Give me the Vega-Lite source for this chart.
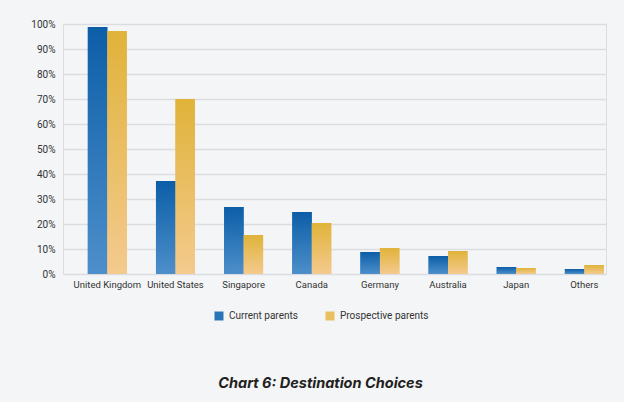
{
  "$schema": "https://vega.github.io/schema/vega-lite/v6.json",
  "width": 543,
  "height": 250,
  "autosize": {"type": "none"},
  "padding": {"left": 63, "top": 24, "right": 18, "bottom": 128},
  "background": "#f4f5f7",
  "title": {
    "text": "Chart 6: Destination Choices",
    "orient": "bottom",
    "anchor": "middle",
    "dx": -14,
    "offset": 56,
    "font": "Inter",
    "fontSize": 14.5,
    "fontStyle": "italic",
    "fontWeight": "bold",
    "color": "#231f20"
  },
  "data": {
    "values": [
      {"country": "United Kingdom", "group": "Current parents", "value": 98.8},
      {"country": "United Kingdom", "group": "Prospective parents", "value": 97.2},
      {"country": "United States", "group": "Current parents", "value": 37.2},
      {"country": "United States", "group": "Prospective parents", "value": 70},
      {"country": "Singapore", "group": "Current parents", "value": 26.8},
      {"country": "Singapore", "group": "Prospective parents", "value": 15.6},
      {"country": "Canada", "group": "Current parents", "value": 24.8},
      {"country": "Canada", "group": "Prospective parents", "value": 20.4},
      {"country": "Germany", "group": "Current parents", "value": 8.8},
      {"country": "Germany", "group": "Prospective parents", "value": 10.4},
      {"country": "Australia", "group": "Current parents", "value": 7.2},
      {"country": "Australia", "group": "Prospective parents", "value": 9.2},
      {"country": "Japan", "group": "Current parents", "value": 2.8},
      {"country": "Japan", "group": "Prospective parents", "value": 2.4},
      {"country": "Others", "group": "Current parents", "value": 2},
      {"country": "Others", "group": "Prospective parents", "value": 3.6}
    ]
  },
  "encoding": {
    "x": {
      "field": "country",
      "type": "nominal",
      "sort": ["United Kingdom", "United States", "Singapore", "Canada", "Germany", "Australia", "Japan", "Others"],
      "scale": {"paddingInner": 0.428, "paddingOuter": 0.198, "align": 0.92},
      "axis": {
        "title": null,
        "labelAngle": 0,
        "domain": false,
        "ticks": false,
        "labelFont": "Roboto",
        "labelFontSize": 9.5,
        "labelColor": "#333333",
        "labelPadding": 5,
        "labelOverlap": false
      }
    },
    "xOffset": {"field": "group", "sort": ["Current parents", "Prospective parents"]},
    "y": {
      "field": "value",
      "type": "quantitative",
      "scale": {"domain": [0, 100]},
      "axis": {
        "title": null,
        "values": [0, 10, 20, 30, 40, 50, 60, 70, 80, 90, 100],
        "labelExpr": "datum.value + '%'",
        "domain": false,
        "ticks": false,
        "labelFont": "Roboto",
        "labelFontSize": 10,
        "labelColor": "#333333",
        "labelPadding": 8,
        "gridColor": "#dcdde1",
        "gridWidth": 1.5
      }
    }
  },
  "layer": [
    {
      "mark": {"type": "bar"},
      "encoding": {
        "color": {
          "field": "group",
          "type": "nominal",
          "scale": {
            "domain": ["Current parents", "Prospective parents"],
            "range": ["#2a74b8", "#ebbf60"]
          },
          "legend": {
            "title": null,
            "orient": "none",
            "legendX": 151,
            "legendY": 287,
            "direction": "horizontal",
            "symbolType": "square",
            "symbolSize": 81,
            "symbolStrokeWidth": 0,
            "symbolOpacity": 1,
            "labelFont": "Roboto",
            "labelFontSize": 10,
            "labelColor": "#333333",
            "columnPadding": 27,
            "labelOffset": 5
          }
        }
      }
    },
    {
      "mark": {"type": "bar"},
      "encoding": {
        "fill": {
          "condition": {
            "test": "datum.group === 'Current parents'",
            "value": {"gradient": "linear", "x1": 0, "y1": 0, "x2": 0, "y2": 1, "stops": [{"offset": 0, "color": "#0c5ea8"}, {"offset": 1, "color": "#4d8fca"}]}
          },
          "value": {"gradient": "linear", "x1": 0, "y1": 0, "x2": 0, "y2": 1, "stops": [{"offset": 0, "color": "#e0b33a"}, {"offset": 1, "color": "#f4ca8e"}]}
        }
      }
    }
  ]
}
